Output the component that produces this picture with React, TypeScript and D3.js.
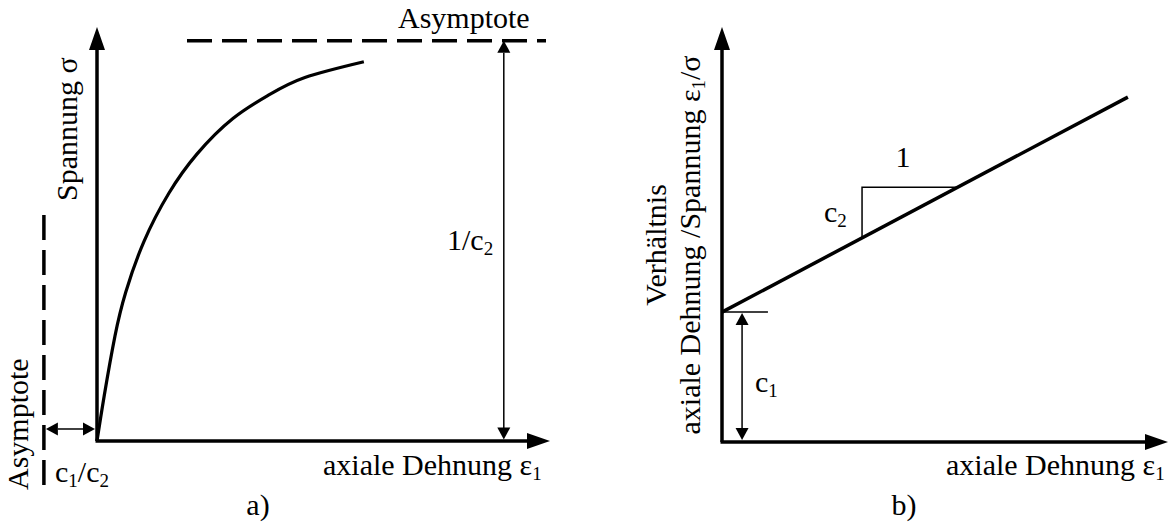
import React from "react";
import * as d3 from "d3";

// Panel a): hyperbolic stress–strain curve (read points)
const curveStrain = [0, 0.16, 0.4, 0.64, 1.04, 1.6, 2.22, 3.02, 3.82, 4.62, 5.93];
const curveStress = [0, 1.09, 2.54, 3.6, 4.81, 5.99, 6.93, 7.79, 8.36, 8.78, 9.16];
const stressAsymptote = 9.67; // 1/c2
const strainAsymptote = -1.18; // -c1/c2
const asymptoteStrainRange = [2, 10];
const asymptoteStressRange = [-1.11, 5.46];
const offsetArrowStress = 0.29;
const ultimateArrowStrain = 9.04;

// Panel b): transformed linear relation ε1/σ versus ε1
const lineStrain = [0, 9.1];
const lineRatio = [3.13, 8.31];
const slopeTriStrain = [3.14, 3.14, 5.29];
const slopeTriRatio = [4.92, 6.14, 6.14];
const interceptTickStrain = [0, 1.03];
const interceptArrowStrain = 0.45;

const FONT = "'Liberation Serif', 'Times New Roman', serif";
const FS = 30;
const SUB = 19;

const xL = d3.scaleLinear().domain([0, 10]).range([97, 547]);
const yL = d3.scaleLinear().domain([0, 10]).range([441, 27]);
const xR = d3.scaleLinear().domain([0, 10]).range([722, 1168]);
const yR = d3.scaleLinear().domain([0, 10]).range([442, 27]);

type Dir = "up" | "down" | "left" | "right";
function head(x: number, y: number, dir: Dir, len: number, half: number) {
  switch (dir) {
    case "up":
      return `M${x},${y}L${x - half},${y + len}L${x + half},${y + len}Z`;
    case "down":
      return `M${x},${y}L${x - half},${y - len}L${x + half},${y - len}Z`;
    case "left":
      return `M${x},${y}L${x + len},${y - half}L${x + len},${y + half}Z`;
    default:
      return `M${x},${y}L${x - len},${y - half}L${x - len},${y + half}Z`;
  }
}

export default function App() {
  const curve = d3
    .line<number>()
    .x((_, i) => xL(curveStrain[i]))
    .y((d) => yL(d))
    .curve(d3.curveNatural)(curveStress) as string;

  const straight = d3
    .line<number>()
    .x((_, i) => xR(lineStrain[i]))
    .y((d) => yR(d))(lineRatio) as string;

  const tri = d3
    .line<number>()
    .x((_, i) => xR(slopeTriStrain[i]))
    .y((d) => yR(d))(slopeTriRatio) as string;

  const axW = 3.5;
  const thin = 1.5;
  const bigLen = 23;
  const bigHalf = 8;
  const smLen = 12;
  const smHalf = 6.5;

  const textStyle: React.CSSProperties = { fontFamily: FONT, fontSize: FS, whiteSpace: "pre" };

  const lx0 = xL(0), ly0 = yL(0);
  const lxTip = 550, lyTip = 27;
  const rx0 = xR(0), ry0 = yR(0);
  const rxTip = 1168, ryTip = 27;

  const ax = xL(ultimateArrowStrain);
  const ay = yL(offsetArrowStress);
  const vx = xL(strainAsymptote);
  const ix = xR(interceptArrowStrain);
  const iy = yR(lineRatio[0]);

  return (
    <svg width={1169} height={526} style={{ position: "absolute", left: 0, top: 0, background: "#fff" }}>
      <rect width={1169} height={526} fill="#fff" />
      <g fill="#000" stroke="none" style={textStyle}>
        {/* ---------- panel a ---------- */}
        <line x1={lx0} y1={ly0} x2={lx0} y2={lyTip + bigLen} stroke="#000" strokeWidth={axW} />
        <path d={head(lx0, lyTip, "up", bigLen, bigHalf)} />
        <line x1={lx0 - 1.5} y1={ly0} x2={lxTip - bigLen} y2={ly0} stroke="#000" strokeWidth={axW} />
        <path d={head(lxTip, ly0, "right", bigLen, bigHalf)} />

        <path d={curve} fill="none" stroke="#000" strokeWidth={3.2} />

        {/* horizontal asymptote */}
        <line
          x1={xL(asymptoteStrainRange[0])}
          x2={xL(asymptoteStrainRange[1]) - 1}
          y1={yL(stressAsymptote)}
          y2={yL(stressAsymptote)}
          stroke="#000"
          strokeWidth={3.5}
          strokeDasharray="25 10"
        />
        {/* vertical asymptote */}
        <line
          x1={vx}
          x2={vx}
          y1={yL(asymptoteStressRange[1])}
          y2={yL(asymptoteStressRange[0])}
          stroke="#000"
          strokeWidth={3.5}
          strokeDasharray="25 10"
        />

        {/* 1/c2 dimension arrow */}
        <line x1={ax} x2={ax} y1={yL(stressAsymptote) + smLen} y2={ly0 - smLen} stroke="#000" strokeWidth={thin} />
        <path d={head(ax, yL(stressAsymptote), "up", smLen, smHalf)} />
        <path d={head(ax, ly0 - 1.5, "down", smLen, smHalf)} />

        {/* c1/c2 dimension arrow */}
        <line x1={vx + 2 + smLen} x2={lx0 - 2 - smLen} y1={ay} y2={ay} stroke="#000" strokeWidth={thin} />
        <path d={head(vx + 2, ay, "left", smLen, smHalf)} />
        <path d={head(lx0 - 2, ay, "right", smLen, smHalf)} />

        <text x={398} y={28}>Asymptote</text>
        <text transform={`translate(28,490) rotate(-90)`}>Asymptote</text>
        <text transform={`translate(77,201) rotate(-90)`}>Spannung σ</text>
        <text x={447} y={250}>
          1/c<tspan fontSize={SUB} dy={5}>2</tspan>
        </text>
        <text x={55} y={482}>
          c<tspan fontSize={SUB} dy={5}>1</tspan>
          <tspan dy={-5}>/c</tspan>
          <tspan fontSize={SUB} dy={5}>2</tspan>
        </text>
        <text x={323} y={475}>
          {"axiale Dehnung  ε"}
          <tspan fontSize={SUB} dy={5}>1</tspan>
        </text>
        <text x={258} y={515} textAnchor="middle">a)</text>

        {/* ---------- panel b ---------- */}
        <line x1={rx0} y1={ry0} x2={rx0} y2={ryTip + bigLen} stroke="#000" strokeWidth={axW} />
        <path d={head(rx0, ryTip, "up", bigLen, bigHalf)} />
        <line x1={rx0 - 1.5} y1={ry0} x2={rxTip - bigLen} y2={ry0} stroke="#000" strokeWidth={axW} />
        <path d={head(rxTip, ry0, "right", bigLen, bigHalf)} />

        <path d={straight} fill="none" stroke="#000" strokeWidth={3.5} />
        <path d={tri} fill="none" stroke="#000" strokeWidth={thin} />

        {/* intercept c1 */}
        <line
          x1={xR(interceptTickStrain[0])}
          x2={xR(interceptTickStrain[1])}
          y1={iy}
          y2={iy}
          stroke="#000"
          strokeWidth={thin}
        />
        <line x1={ix} x2={ix} y1={iy + smLen} y2={ry0 - 2 - smLen} stroke="#000" strokeWidth={thin} />
        <path d={head(ix, iy + 1, "up", smLen, smHalf)} />
        <path d={head(ix, ry0 - 2, "down", smLen, smHalf)} />

        <text x={755} y={392}>
          c<tspan fontSize={SUB} dy={5}>1</tspan>
        </text>
        <text x={824} y={222}>
          c<tspan fontSize={SUB} dy={5}>2</tspan>
        </text>
        <text x={903} y={167} textAnchor="middle">1</text>

        <text transform={`translate(666,245) rotate(-90)`} textAnchor="middle">Verhältnis</text>
        <text transform={`translate(700,245) rotate(-90)`} textAnchor="middle">
          {"axiale Dehnung /Spannung  ε"}
          <tspan fontSize={SUB} dy={5}>1</tspan>
          <tspan dy={-5}>/σ</tspan>
        </text>
        <text x={946} y={475}>
          {"axiale Dehnung  ε"}
          <tspan fontSize={SUB} dy={5}>1</tspan>
        </text>
        <text x={904} y={515} textAnchor="middle">b)</text>
      </g>
    </svg>
  );
}
